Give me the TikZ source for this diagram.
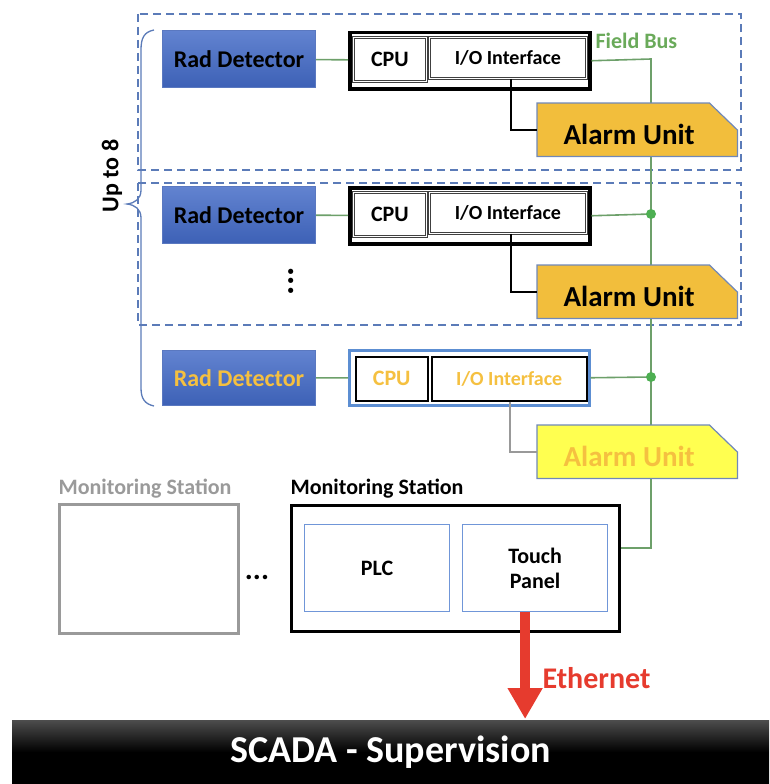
\documentclass[tikz,border=0pt]{standalone}
\usepackage{fontspec}
\setmainfont{Carlito}
\usetikzlibrary{arrows.meta}
\definecolor{dashblue}{HTML}{5B7BB8}
\definecolor{rdtop}{HTML}{6283D0}
\definecolor{rdbot}{HTML}{3D61B6}
\definecolor{rdedge}{HTML}{5A78C0}
\definecolor{busgreen}{HTML}{6DA06A}
\definecolor{dotgreen}{HTML}{4DAF52}
\definecolor{fieldgreen}{HTML}{6AAA5A}
\definecolor{alarmgold}{HTML}{F2BE3C}
\definecolor{alarmedge}{HTML}{7088B8}
\definecolor{alyellow}{HTML}{FFFF50}
\definecolor{goldtext}{HTML}{F5C040}
\definecolor{boxblue}{HTML}{5C8ED2}
\definecolor{panelblue}{HTML}{7096D8}
\definecolor{ethred}{HTML}{E63B2E}
\definecolor{msgray}{HTML}{9A9A9A}
\newcommand{\fs}[1]{\fontsize{#1}{#1}\selectfont\bfseries}
\tikzset{
  rdbox/.style={draw=rdedge, line width=1pt, top color=rdtop, bottom color=rdbot,
    minimum width=153pt, minimum height=57pt, anchor=north west, inner sep=0pt, font=\fs{24}},
  ctrbox/.style={draw=black, line width=3.5pt, minimum width=240pt, minimum height=56pt,
    anchor=north west, inner sep=0pt},
  innerbox/.style={draw=black!75, double=white, double distance=1.2pt, line width=0.8pt,
    anchor=north west, inner sep=0pt, fill=white},
  alarmarea/.style={minimum width=200pt, minimum height=53pt, anchor=north west, inner sep=0pt,
    font=\fs{29}},
  alarmshape/.style={draw=alarmedge, line width=1.2pt},
  bus/.style={busgreen, line width=1.6pt},
  ctl/.style={black, line width=1.6pt},
  dashbox/.style={dashblue, line width=1.6pt, dash pattern=on 8pt off 5pt},
  busdot/.style={circle, fill=dotgreen, inner sep=0pt, minimum size=10pt},
}
\begin{document}
\begin{tikzpicture}[x=1pt, y=-1pt]
\useasboundingbox (0,0) rectangle (769,784);
% dashed groups
\draw[dashbox] (138,14) rectangle (741,170);
\draw[dashbox] (138,183) rectangle (741,325);
% brace
\draw[dashblue, line width=1.3pt] (154,30) .. controls (144,32) and (141,38) .. (141,50)
  -- (141,190) .. controls (141,199) and (135,203) .. (127,204)
  .. controls (135,205) and (141,209) .. (141,218) -- (141,388)
  .. controls (141,399) and (145,404) .. (154,406);
\node[rotate=90, font=\fs{24}] (upto) at (112,176) {Up to 8};
% named bus coordinates
\coordinate (b1) at (651,59);
\coordinate (b2) at (651,214);
\coordinate (b3) at (651,377);
\coordinate (b4) at (651,548);
% row 1
\node[rdbox] (rd1) at (162,30) {Rad Detector};
\node[ctrbox] (ctr1) at (348,31) {};
\node[innerbox, minimum width=73pt, minimum height=44pt, font=\fs{22}] (cpu1) at (353,37) {CPU};
\node[innerbox, minimum width=157pt, minimum height=41pt, font=\fs{20}] (io1) at (429,37) {I/O Interface};
\node[font=\fs{22}, text=fieldgreen, anchor=west] (fb) at (592,41) {Field Bus};
% row 2
\node[rdbox] (rd2) at (162,186) {Rad Detector};
\node[ctrbox] (ctr2) at (348,186) {};
\node[innerbox, minimum width=73pt, minimum height=44pt, font=\fs{22}] (cpu2) at (353,192) {CPU};
\node[innerbox, minimum width=157pt, minimum height=41pt, font=\fs{20}] (io2) at (429,192) {I/O Interface};
\node[rotate=90, font=\fs{35}, inner sep=0pt] (vd) at (291,281) {...};
% row 3
\node[rdbox, minimum height=55pt, text=goldtext] (rd3) at (162,350) {Rad Detector};
\node[draw=boxblue, line width=2.5pt, minimum width=240pt, minimum height=55pt, anchor=north west, inner sep=0pt] (ctr3) at (348,349) {};
\node[draw=black, line width=1.5pt, fill=white, anchor=north west, inner sep=0pt, minimum width=72pt, minimum height=44pt, font=\fs{22}, text=goldtext] (cpu3) at (355,356) {CPU};
\node[draw=black, line width=1.5pt, fill=white, anchor=north west, inner sep=0pt, minimum width=155pt, minimum height=44pt, font=\fs{20}, text=goldtext] (io3) at (431,356) {I/O Interface};
% monitoring stations
\node[font=\fs{22}, text=msgray] (ms0t) at (145,489) {Monitoring Station};
\node[draw=msgray, line width=3pt, minimum width=179pt, minimum height=129pt, anchor=north west] (ms0) at (58,503) {};
\node[font=\fs{30}] (dots) at (257,577) {...};
\node[font=\fs{22}] (mst) at (377,489) {Monitoring Station};
\node[draw=black, line width=3pt, minimum width=328pt, minimum height=126pt, anchor=north west, inner sep=0pt] (ms) at (290,504) {};
\node[draw=panelblue, line width=1.2pt, minimum width=145pt, minimum height=87pt, anchor=north west, font=\fs{22}] (plc) at (304,524) {PLC};
\node[draw=panelblue, line width=1.2pt, minimum width=145pt, minimum height=87pt, anchor=north west, font=\fs{22}, align=center] (tp) at (462,524) {Touch\\[3pt]Panel};
% SCADA bar
\node[top color=black!70, bottom color=black, middle color=black, minimum width=757pt, minimum height=64pt, anchor=north west, inner sep=0pt, font=\fs{38}, text=white] (scada) at (12,720) {SCADA - Supervision};
% field bus lines (behind alarm units)
\draw[bus] (rd1) -- (ctr1);
\draw[bus] (rd2) -- (ctr2);
\draw[bus] (rd3) -- (ctr3);
\draw[bus] (ctr1.east) -- (b1) -- (b4) -- (b4 -| ms.east);
\draw[bus] (ctr2.east) -- (b2);
\draw[bus] (ctr3.east) -- (b3);
\node[busdot] (d2) at (b2) {};
\node[busdot] (d3) at (b3) {};
% alarm units
\node[alarmarea] (al1) at (537,103) {};
\node[alarmarea] (al2) at (537,265) {};
\node[alarmarea] (al3) at (537,425) {};
\foreach \a/\c in {al1/alarmgold, al2/alarmgold, al3/alyellow}{
  \draw[alarmshape, fill=\c] (\a.south west) -- (\a.north west) -- ([xshift=-28pt]\a.north east)
    -- ([yshift=-27pt]\a.north east) -- (\a.south east) -- cycle;
}
\node[font=\fs{29}] (al1t) at ([xshift=-8pt,yshift=-5pt]al1.center) {Alarm Unit};
\node[font=\fs{29}] (al2t) at ([xshift=-8pt,yshift=-5pt]al2.center) {Alarm Unit};
\node[font=\fs{29}, text=goldtext] (al3t) at ([xshift=-8pt,yshift=-5pt]al3.center) {Alarm Unit};
% control lines
\draw[ctl] ([xshift=3pt]io1.south) |- (al1.west);
\draw[ctl] ([xshift=3pt]io2.south) |- (al2.west);
\draw[black!40, line width=1.8pt] ([xshift=1pt]io3.south) |- (al3.west);
% ethernet
\draw[ethred, line width=10pt, -{Triangle[width=33pt, length=31pt]}] ([xshift=-10pt]tp.south) -- ([xshift=-10pt,yshift=1pt]scada.north -| tp.south);
\node[font=\fs{30}, text=ethred, anchor=west] (eth) at (539,678) {Ethernet};
\end{tikzpicture}
\end{document}
